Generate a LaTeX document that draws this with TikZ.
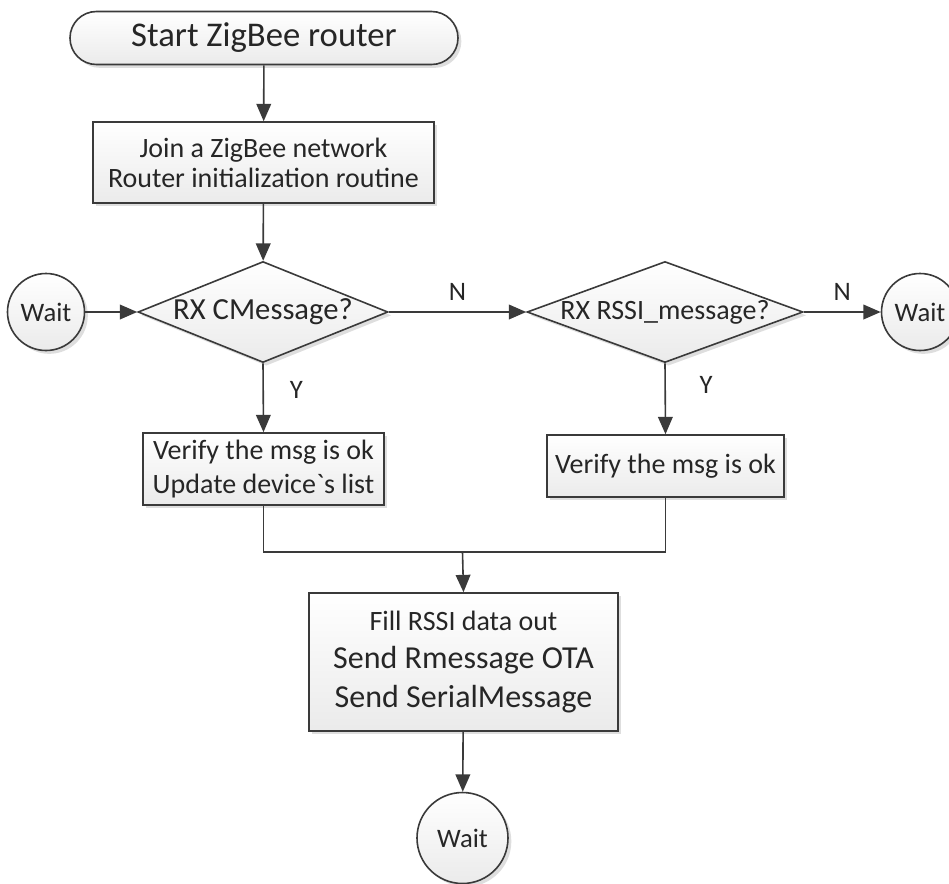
\documentclass[tikz,border=0pt]{standalone}
\usepackage{fontspec}
\setmainfont{Carlito}
% same family without the TeX ligature mapping, for a plain grave accent
\newfontfamily\rawfont{Carlito}[Ligatures=ResetAll]
\usetikzlibrary{shapes.geometric,shadows,arrows.meta,calc}
\definecolor{ink}{HTML}{3A3A3A}
\definecolor{txt}{HTML}{262626}
\tikzset{
  base/.style={draw=ink, line width=1.2pt, top color=white, bottom color=black!8,
    text=txt, align=center, inner sep=0pt,
    drop shadow={shadow xshift=2.5pt, shadow yshift=-2.5pt, opacity=0.13, fill=black}},
  procbox/.style={base, rectangle},
  termbox/.style={base, rectangle, rounded corners=19.8pt},
  decbox/.style={base, diamond, aspect=2.4},
  waitnode/.style={base, circle, font=\fontsize{20pt}{24pt}\selectfont},
  flow/.style={draw=ink, line width=1.2pt, -{Triangle[length=13pt,width=11pt]}},
  wire/.style={draw=ink, line width=1.2pt},
  yn/.style={text=txt, font=\fontsize{20pt}{24pt}\selectfont},
}
\begin{document}
\begin{tikzpicture}[x=0.75pt,y=-0.75pt]
\useasboundingbox (0,0) rectangle (949,883);

% main column
\node[termbox, minimum width=291pt, minimum height=39.75pt,
      font=\fontsize{26pt}{30pt}\selectfont] (start) at (264,38) {Start ZigBee router};
\node[procbox, minimum width=255.75pt, minimum height=60.75pt,
      font=\fontsize{21pt}{22.5pt}\selectfont] (init) at (263.5,162.5)
      {Join a ZigBee network\\Router initialization routine};

% decisions
\node[decbox, minimum width=187.5pt, minimum height=75.75pt,
      label={[text=txt, font=\fontsize{23pt}{26pt}\selectfont]center:RX CMessage?}] (d1) at (263,312) {};
\node[decbox, minimum width=207pt, minimum height=75.75pt,
      label={[text=txt, font=\fontsize{21pt}{24pt}\selectfont]center:RX RSSI\_message?}] (d2) at (665,312) {};

\node[waitnode, minimum size=57.75pt] (wl) at (46,312) {Wait};
\node[waitnode, minimum size=57.75pt] (wr) at (920,312) {Wait};

% verification boxes
\node[procbox, minimum width=180.75pt, minimum height=54pt,
      font=\fontsize{21pt}{25pt}\selectfont] (v1) at (263.5,469)
      {Verify the msg is ok\\Update device{\rawfont`}s list};
\node[procbox, minimum width=177.75pt, minimum height=46.5pt,
      font=\fontsize{21pt}{25pt}\selectfont] (v2) at (665.5,466)
      {Verify the msg is ok};

% output box: each line keeps its own size, the spacing comes from the node font
\node[procbox, minimum width=231.75pt, minimum height=103.5pt,
      font=\fontsize{24pt}{29pt}\selectfont] (out) at (463.5,662)
      {\fontsize{21pt}{29pt}\selectfont Fill RSSI data out\\
       Send Rmessage OTA\\
       Send SerialMessage};

\node[waitnode, minimum size=68.25pt] (wb) at (462.5,838) {Wait};

\coordinate (j) at (462.5,552);

% connectors
\draw[flow] (start) -- (init);
\draw[flow] (init) -- (d1);
\draw[flow] (wl) -- (d1);
\draw[flow] (d1.east) -- node[yn, above=5pt] {N} (d2.west);
\draw[flow] (d2.east) -- node[yn, above=5pt] {N} (wr);
\draw[flow] (d1.south) -- node[yn, right=16pt, pos=0.38] {Y} (v1.north);
\draw[flow] (d2.south) -- node[yn, right=22pt, pos=0.3] {Y} (v2.north);
\draw[wire] (v1.south) |- (j);
\draw[wire] (v2.south) |- (j);
\draw[flow] (j) -- (out.north);
\draw[flow] (out) -- (wb);
\end{tikzpicture}
\end{document}
